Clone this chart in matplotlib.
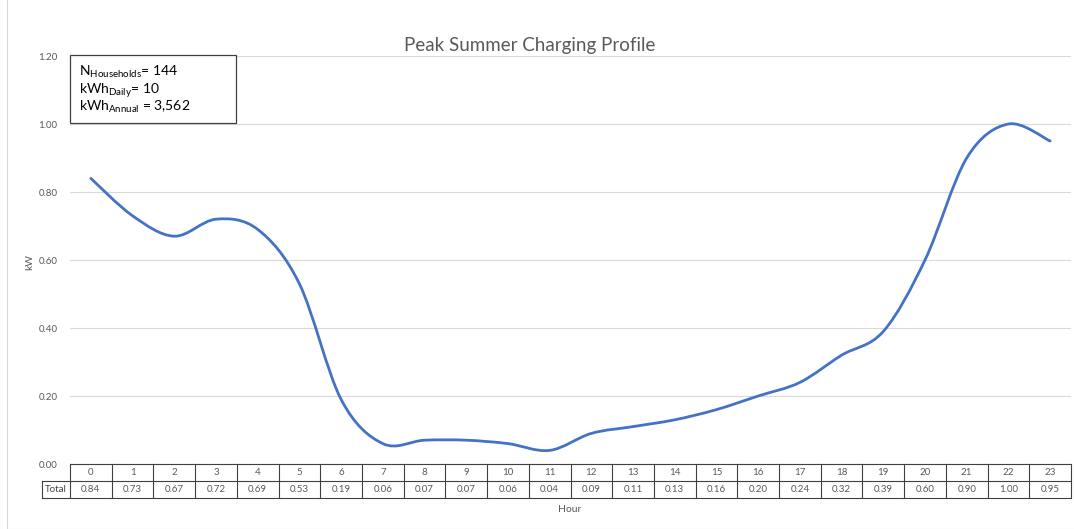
import matplotlib
matplotlib.use("Agg")
import matplotlib.pyplot as plt
from matplotlib.path import Path
from matplotlib.patches import PathPatch, Rectangle
import numpy as np

hours = list(range(24))
values = [0.84, 0.73, 0.67, 0.72, 0.69, 0.53, 0.19, 0.06, 0.07, 0.07, 0.06, 0.04,
          0.09, 0.11, 0.13, 0.16, 0.20, 0.24, 0.32, 0.39, 0.60, 0.90, 1.00, 0.95]
row_label = "Total"
title = "Peak Summer Charging Profile"
y_label = "kW"
x_label = "Hour"
y_ticks = [0.0, 0.2, 0.4, 0.6, 0.8, 1.0, 1.2]
note_lines = ["N$_{\\mathrm{Households}}$= 144",
              "kWh$_{\\mathrm{Daily}}$= 10",
              "kWh$_{\\mathrm{Annual}}$ = 3,562"]

plt.rcParams['font.family'] = ['Lato', 'DejaVu Sans']
plt.rcParams['mathtext.fontset'] = 'custom'
plt.rcParams['mathtext.rm'] = 'Lato'
plt.rcParams['mathtext.it'] = 'Lato'

W, H = 1074, 529
fig = plt.figure(figsize=(W / 100, H / 100), dpi=100)
fig.patch.set_facecolor('white')
fig.patches.append(Rectangle((7 / W, 0), 1.2, 1.2, transform=fig.transFigure,
                             fill=False, edgecolor='#D9D9D9', lw=0.8))

x0, x1 = 70, 1071
yt, yb = 56, 464
ax = fig.add_axes([x0 / W, 1 - yb / H, (x1 - x0) / W, (yb - yt) / H])
ax.set_xlim(-0.5, 23.5)
ax.set_ylim(0, 1.2)
ax.set_yticks(y_ticks)
ax.set_yticklabels([f"{v:.2f}" for v in y_ticks], fontsize=7, color='#595959')
ax.tick_params(axis='y', length=0, pad=9)
ax.set_xticks([])
ax.grid(axis='y', color='#D9D9D9', lw=0.8)
ax.set_axisbelow(True)
for s in ax.spines.values():
    s.set_visible(False)

# Excel-style smoothed line (cubic Bezier through the data points)
xs = np.array(hours, dtype=float)
ys = np.array(values, dtype=float)
verts = [(xs[0], ys[0])]
codes = [Path.MOVETO]
n = len(xs)
for i in range(n - 1):
    p0 = np.array([xs[max(i - 1, 0)], ys[max(i - 1, 0)]])
    p1 = np.array([xs[i], ys[i]])
    p2 = np.array([xs[i + 1], ys[i + 1]])
    p3 = np.array([xs[min(i + 2, n - 1)], ys[min(i + 2, n - 1)]])
    c1 = p1 + (p2 - p0) / 6
    c2 = p2 - (p3 - p1) / 6
    verts += [tuple(c1), tuple(c2), tuple(p2)]
    codes += [Path.CURVE4] * 3
ax.add_patch(PathPatch(Path(verts, codes), fill=False, edgecolor='#4472C4',
                       lw=2.0, capstyle='round', joinstyle='round'))

fig.text(530 / W, 1 - 46 / H, title, fontsize=13.5, color='#595959',
         ha='center', va='center')
fig.text(30 / W, 1 - 262 / H, y_label, rotation=90, fontsize=7.5, color='#595959',
         ha='center', va='center')
fig.text(570 / W, 1 - 510 / H, x_label, fontsize=7.5, color='#595959',
         ha='center', va='center')

# annotation box
fig.patches.append(Rectangle((70 / W, 1 - 123 / H), 166 / W, 68 / H,
                             transform=fig.transFigure, fill=True, facecolor='white',
                             edgecolor='#404040', lw=0.9, zorder=5))
for k, line in enumerate(note_lines):
    fig.text(79 / W, 1 - (70 + 17.5 * k) / H, line, fontsize=10, color='black',
             va='center_baseline', ha='left', zorder=6)

# data table
row_h = 17
cw = (x1 - x0) / 24
tc = '#404040'
def hline(y, xa, xb):
    fig.add_artist(plt.Line2D([xa / W, xb / W], [1 - y / H, 1 - y / H],
                              color=tc, lw=0.8, transform=fig.transFigure))
def vline(x, ya, yb2):
    fig.add_artist(plt.Line2D([x / W, x / W], [1 - ya / H, 1 - yb2 / H],
                              color=tc, lw=0.8, transform=fig.transFigure))
hline(yb, x0, x1)
hline(yb + row_h, 42, x1)
hline(yb + 2 * row_h, 42, x1)
vline(42, yb + row_h, yb + 2 * row_h)
for i in range(25):
    vline(x0 + i * cw, yb, yb + 2 * row_h)
fig.text(56 / W, 1 - (yb + 1.5 * row_h) / H, row_label, fontsize=7, color='#404040',
         ha='center', va='center')
for i, (h, v) in enumerate(zip(hours, values)):
    cx = (x0 + (i + 0.5) * cw) / W
    fig.text(cx, 1 - (yb + 0.5 * row_h) / H, str(h), fontsize=7, color='#595959',
             ha='center', va='center')
    fig.text(cx, 1 - (yb + 1.5 * row_h) / H, f"{v:.2f}", fontsize=7, color='#595959',
             ha='center', va='center')

fig.savefig("out.png", dpi=100)
